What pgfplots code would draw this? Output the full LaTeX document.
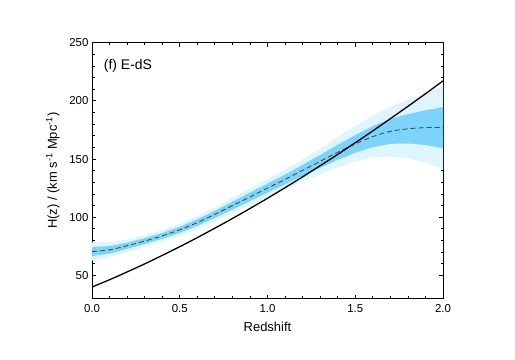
\documentclass[border=0pt]{standalone}
\usepackage{fontspec}
\setmainfont{Liberation Sans}
\usepackage{pgfplots}
\pgfplotsset{compat=1.18}
\usepackage{pgfplotstable}
\usepgfplotslibrary{fillbetween}
\definecolor{bandone}{RGB}{125,212,250}
\definecolor{bandtwo}{RGB}{222,245,252}

% z, mean, 1-sigma and 2-sigma limits
\pgfplotstableread{
z    mean  lo1   hi1   lo2   hi2
0.0  70.5  66.6  74.4  62.7  78.3
0.1  72.0  68.8  75.2  65.6  78.4
0.2  75.5  72.8  78.2  70.1  80.9
0.3  79.5  77.0  82.0  74.5  84.5
0.4  84.0  81.5  86.5  79.0  89.0
0.5  89.2  86.6  91.8  84.0  94.4
0.6  95.4  92.6  98.2  89.8  101.0
0.7  102.5 99.5  105.5 96.5  108.5
0.8  110.0 106.6 113.4 103.2 116.8
0.9  117.5 113.8 121.2 110.1 124.9
1.0  125.0 121.1 128.9 117.2 132.8
1.1  132.5 128.3 136.7 124.1 140.9
1.2  140.3 135.5 145.1 130.7 149.9
1.3  148.0 142.5 153.5 137.0 159.0
1.4  155.8 149.3 162.3 142.8 168.8
1.5  163.0 155.4 170.6 147.8 178.2
1.6  169.3 160.3 178.3 151.3 187.3
1.7  173.8 163.1 184.5 152.4 195.2
1.8  176.0 163.4 188.6 150.8 201.2
1.9  177.0 162.1 191.9 147.2 206.8
2.0  177.0 159.3 194.7 141.6 212.4
}\gpdata

\pgfplotstableread{
z    H
0.0  40.0
0.1  46.3
0.2  53.0
0.3  59.9
0.4  67.2
0.5  74.7
0.6  82.5
0.7  90.6
0.8  98.9
0.9  107.5
1.0  116.3
1.1  125.4
1.2  134.7
1.3  144.3
1.4  154.0
1.5  164.0
1.6  174.2
1.7  184.7
1.8  195.3
1.9  206.1
2.0  217.2
}\edsdata

\begin{document}
\begin{tikzpicture}
\begin{axis}[
  scale only axis,
  width=351bp,height=256bp,
  xmin=0,xmax=2,ymin=30,ymax=250,
  xtick={0,0.5,...,2},
  ytick={50,100,...,250},
  minor x tick num=4,
  minor y tick num=4,
  xticklabel style={/pgf/number format/fixed,/pgf/number format/fixed zerofill,/pgf/number format/precision=1,yshift=-2bp},
  /pgf/number format/assume math mode=true,
  tick label style={font=\fontsize{11.5}{13}\selectfont},
  label style={font=\fontsize{13}{15}\selectfont},
  tick align=inside,
  major tick length=4bp,
  minor tick length=2.5bp,
  tick style={black,line width=0.8bp},
  axis line style={line width=1bp},
  xlabel={Redshift},
  ylabel={H(z) / (km s\textsuperscript{-1} Mpc\textsuperscript{-1})},
  xlabel style={yshift=-3bp},
  ylabel style={yshift=3bp},
]
\coordinate (ll) at (rel axis cs:0,0);
\coordinate (ur) at (rel axis cs:1,1);
\addplot[name path=hitwo,draw=none,forget plot] table[x=z,y=hi2]{\gpdata};
\addplot[name path=lotwo,draw=none,forget plot] table[x=z,y=lo2]{\gpdata};
\addplot[name path=hione,draw=none,forget plot] table[x=z,y=hi1]{\gpdata};
\addplot[name path=loone,draw=none,forget plot] table[x=z,y=lo1]{\gpdata};
\addplot[bandtwo,draw=none] fill between[of=hitwo and lotwo];
\addplot[bandone,draw=none] fill between[of=hione and loone];
\addplot[smooth,black!75,line width=0.8bp,dash pattern=on 5bp off 3bp] table[x=z,y=mean]{\gpdata};
\addplot[smooth,black,line width=1.3bp] table[x=z,y=H]{\edsdata};
\node[anchor=west,inner sep=0pt,font=\fontsize{14}{16}\selectfont] at (axis cs:0.067,230) {(f) E-dS};
\end{axis}
\path ([shift={(-92bp,-61bp)}]ll) rectangle ([shift={(72bp,42.7bp)}]ur);
\end{tikzpicture}
\end{document}
